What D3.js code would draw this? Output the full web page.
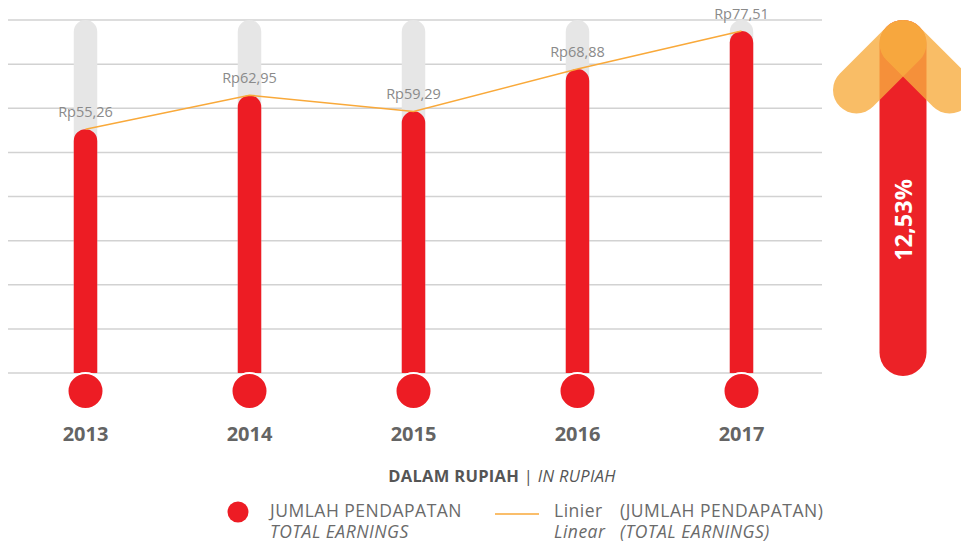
<!DOCTYPE html>
<html lang="id">
<head>
    <meta charset="UTF-8">
    <title>Jumlah Pendapatan</title>
    <script src="https://cdn.jsdelivr.net/npm/d3@7"></script>
    <style>
        body { margin: 0; background: #fff; }
        text { font-family: "Open Sans", "DejaVu Sans", sans-serif; }
    </style>
</head>
<body>
<script>
    // data
    var years = ["2013", "2014", "2015", "2016", "2017"];
    var earnings = [55.26, 62.95, 59.29, 68.88, 77.51];
    var valueLabels = ["Rp55,26", "Rp62,95", "Rp59,29", "Rp68,88", "Rp77,51"];
    var growthLabel = "12,53%";
    var yTicks = [0, 10, 20, 30, 40, 50, 60, 70, 80];

    var width = 961, height = 549;
    var red = "#ed1c24", orange = "#f9a93a";

    var svg = d3.select("body").append("svg")
        .attr("width", width)
        .attr("height", height);

    // scales
    var x = d3.scaleBand().domain(years).range([3.5, 823.5]);
    var y = d3.scaleLinear().domain([0, 80]).range([373, 20]);
    var barW = 23.5;
    var cx = function (d) { return x(d) + x.bandwidth() / 2; };

    // grid lines
    svg.append("g").selectAll("line")
        .data(yTicks)
        .enter().append("line")
        .attr("x1", 8).attr("x2", 822)
        .attr("y1", function (d) { return y(d); })
        .attr("y2", function (d) { return y(d); })
        .attr("stroke", "#d2d2d2")
        .attr("stroke-width", 1.5);

    // grey tracks (max of axis)
    svg.append("g").selectAll("path")
        .data(years)
        .enter().append("path")
        .attr("d", function (d) { return barPath(cx(d), y(80), y(0)); })
        .attr("fill", "#e6e6e6");

    // red bars
    svg.append("g").selectAll("path")
        .data(earnings)
        .enter().append("path")
        .attr("d", function (d, i) { return barPath(cx(years[i]), y(d), y(0)); })
        .attr("fill", red);

    // bulbs
    svg.append("g").selectAll("circle")
        .data(years)
        .enter().append("circle")
        .attr("cx", cx)
        .attr("cy", y(0) + 18)
        .attr("r", 18)
        .attr("fill", red)
        .attr("stroke", "#fff")
        .attr("stroke-width", 2);

    // rounded-top bar path
    function barPath(c, top, bottom) {
        var r = barW / 2;
        var p = d3.path();
        p.moveTo(c - r, bottom);
        p.lineTo(c - r, top + r);
        p.arc(c, top + r, r, Math.PI, 0);
        p.lineTo(c + r, bottom);
        p.closePath();
        return p.toString();
    }

    // trend line
    var line = d3.line()
        .x(function (d, i) { return cx(years[i]); })
        .y(function (d) { return y(d); });
    svg.append("path")
        .datum(earnings)
        .attr("d", line)
        .attr("fill", "none")
        .attr("stroke", orange)
        .attr("stroke-width", 1.5);

    // value labels
    svg.append("g").selectAll("text")
        .data(earnings)
        .enter().append("text")
        .attr("x", function (d, i) { return cx(years[i]); })
        .attr("y", function (d) { return y(d) - 12; })
        .attr("text-anchor", "middle")
        .attr("font-size", 14.5)
        .attr("fill", "#8a8a8a")
        .text(function (d, i) { return valueLabels[i]; });

    // year labels
    svg.append("g").selectAll("text")
        .data(years)
        .enter().append("text")
        .attr("x", cx)
        .attr("y", 441)
        .attr("text-anchor", "middle")
        .attr("font-size", 20)
        .attr("font-weight", "bold")
        .attr("fill", "#646464")
        .text(function (d) { return d; });

    // growth arrow
    var ax = 903, aw = 47;
    var arrow = svg.append("g");
    arrow.append("rect")
        .attr("x", ax - aw / 2).attr("y", 20)
        .attr("width", aw).attr("height", 356)
        .attr("rx", aw / 2)
        .attr("fill", "#ec2227");
    [-1, 1].forEach(function (s) {
        arrow.append("line")
            .attr("x1", ax).attr("y1", 20 + aw / 2)
            .attr("x2", ax + s * 46.5).attr("y2", 20 + aw / 2 + 46.5)
            .attr("stroke", "#f7ac40")
            .attr("stroke-opacity", 0.8)
            .attr("stroke-width", aw)
            .attr("stroke-linecap", "round");
    });
    arrow.append("text")
        .attr("transform", "translate(911.5,220) rotate(-90)")
        .attr("text-anchor", "middle")
        .attr("font-size", 23.5)
        .attr("font-weight", "bold")
        .attr("fill", "#fff")
        .text(growthLabel);

    // unit caption
    var cap = svg.append("text")
        .attr("x", 502).attr("y", 481.5)
        .attr("text-anchor", "middle")
        .attr("font-size", 16.5)
        .attr("letter-spacing", 0.3)
        .attr("fill", "#555");
    cap.append("tspan").attr("font-weight", "bold").text("DALAM RUPIAH ");
    cap.append("tspan").text("| ");
    cap.append("tspan").attr("font-style", "italic").text("IN RUPIAH");

    // legend
    var legend = svg.append("g")
        .attr("font-size", 17.5)
        .attr("letter-spacing", 0.5)
        .attr("fill", "#6a6a6a");
    legend.append("circle")
        .attr("cx", 238).attr("cy", 512).attr("r", 10.5)
        .attr("fill", red);
    legend.append("text").attr("x", 270).attr("y", 517).text("JUMLAH PENDAPATAN");
    legend.append("text").attr("x", 270).attr("y", 538).attr("font-style", "italic").text("TOTAL EARNINGS");
    legend.append("line")
        .attr("x1", 495).attr("x2", 539).attr("y1", 514).attr("y2", 514)
        .attr("stroke", orange).attr("stroke-width", 1.5);
    legend.append("text").attr("x", 554).attr("y", 517).text("Linier");
    legend.append("text").attr("x", 620).attr("y", 517).text("(JUMLAH PENDAPATAN)");
    legend.append("text").attr("x", 554).attr("y", 538).attr("font-style", "italic").text("Linear");
    legend.append("text").attr("x", 620).attr("y", 538).attr("font-style", "italic").text("(TOTAL EARNINGS)");
</script>
</body>
</html>
